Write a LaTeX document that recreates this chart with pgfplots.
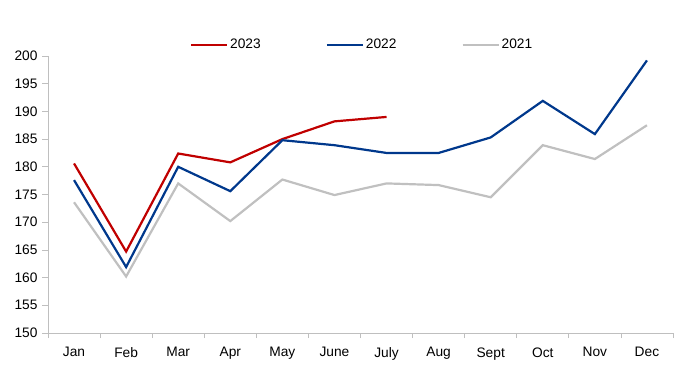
\documentclass[border=0pt]{standalone}
\usepackage{pgfplots}
\pgfplotsset{compat=1.18}
\usepackage{fontspec}
\setmainfont{Liberation Sans}
\definecolor{c23}{RGB}{192,0,0}
\definecolor{c22}{RGB}{0,56,140}
\definecolor{c21}{RGB}{192,192,192}
\definecolor{axgray}{RGB}{191,191,191}
\begin{document}
\begin{tikzpicture}
\begin{axis}[
  scale only axis,
  width=625bp, height=277bp,
  xmin=-0.5, xmax=11.5,
  ymin=150, ymax=200,
  ytick={150,155,...,200},
  xtick={0,...,11},
  xticklabels={Jan,Feb,Mar,Apr,May,June,July,Aug,Sept,Oct,Nov,Dec},
  minor xtick={-0.5,0.5,...,11.5},
  axis x line=bottom, axis y line=left,
  axis line style={-, draw=axgray, line width=0.8pt},
  tick align=outside,
  major tick length=6bp,
  minor tick length=5bp,
  major x tick style={draw=none},
  minor x tick style={draw=axgray, line width=0.8pt},
  ytick style={draw=axgray, line width=0.8pt},
  /pgf/number format/assume math mode=true,
  tick label style={font=\fontsize{13.8}{15}\selectfont, text=black},
  yticklabel style={xshift=-1bp},
  xticklabel style={yshift=-5bp},
  legend style={draw=none, fill=none, at={(axis description cs:0.222,1.04)}, anchor=west,
    font=\fontsize{13.8}{15}\selectfont, legend columns=3,
    /tikz/every even column/.append style={column sep=63bp}},
  legend image code/.code={\draw[#1] (0bp,0bp) -- (36bp,0bp);},
  every axis plot/.append style={line width=2.2bp, line join=miter},
]
\addplot[c23] coordinates {(0,180.6) (1,164.7) (2,182.4) (3,180.8) (4,185.0) (5,188.2) (6,189.0)};
\addlegendentry{2023}
\addplot[c22] coordinates {(0,177.6) (1,161.9) (2,180.0) (3,175.6) (4,184.8) (5,183.9) (6,182.5) (7,182.5) (8,185.3) (9,191.9) (10,185.9) (11,199.2)};
\addlegendentry{2022}
\addplot[c21] coordinates {(0,173.6) (1,160.2) (2,177.0) (3,170.2) (4,177.7) (5,174.9) (6,177.0) (7,176.7) (8,174.5) (9,183.9) (10,181.4) (11,187.5)};
\addlegendentry{2021}
\end{axis}
\path[use as bounding box] (-48bp,-39bp) rectangle (646bp,333bp);
\end{tikzpicture}
\end{document}
